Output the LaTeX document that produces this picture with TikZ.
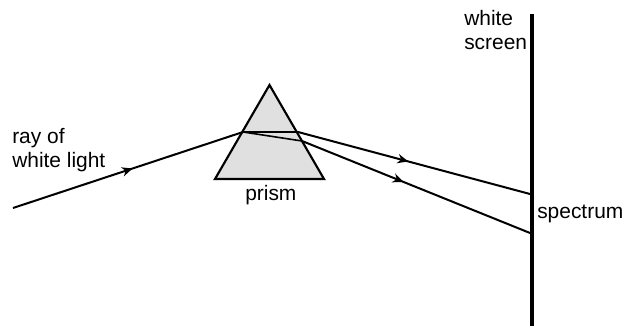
\documentclass[tikz,border=0pt]{standalone}
\usepackage{fontspec}
\setmainfont{Liberation Sans}
\usetikzlibrary{arrows.meta,decorations.markings}
\tikzset{
  ray/.style={draw=black,line width=1.5pt},
  midarrow/.style={postaction={decorate},decoration={markings,mark=at position #1 with {\arrow{Stealth[length=8pt,width=7pt]}}}},
  lbl/.style={inner sep=0pt,font=\fontsize{15.7pt}{18pt}\selectfont,anchor=base west},
}
\begin{document}
\begin{tikzpicture}[x=0.75pt,y=-0.75pt]
\useasboundingbox (0,0) rectangle (625,327);
\coordinate (start) at (13,208);
\coordinate (entry) at (243,132);
\coordinate (exitA) at (298,132);
\coordinate (exitB) at (302,141);
\coordinate (endA) at (530,194);
\coordinate (endB) at (530,233);
\coordinate (apex) at (269.5,85);
\coordinate (bl) at (215,179);
\coordinate (br) at (324,179);
\coordinate (top) at (532,14);
\coordinate (bot) at (532,326);
\draw[line width=1.6pt,fill=black!12,line join=miter] (apex) -- (bl) -- (br) -- cycle;
\draw[ray,midarrow=0.52] (start) -- (entry);
\draw[ray] (entry) -- (exitA);
\draw[line width=1.2pt] (entry) -- (exitB);
\draw[ray,midarrow=0.475] (exitA) -- (endA);
\draw[ray,midarrow=0.445] (exitB) -- (endB);
\draw[line width=3.6pt] (top) -- (bot);
\node[lbl] (t1) at (12,144) {ray of};
\node[lbl] (t2) at (12,168) {white light};
\node[lbl] (t3) at (245,201) {prism};
\node[lbl] (t4) at (464,26) {white};
\node[lbl] (t5) at (464,50) {screen};
\node[lbl] (t6) at (537,219) {spectrum};
\end{tikzpicture}
\end{document}
